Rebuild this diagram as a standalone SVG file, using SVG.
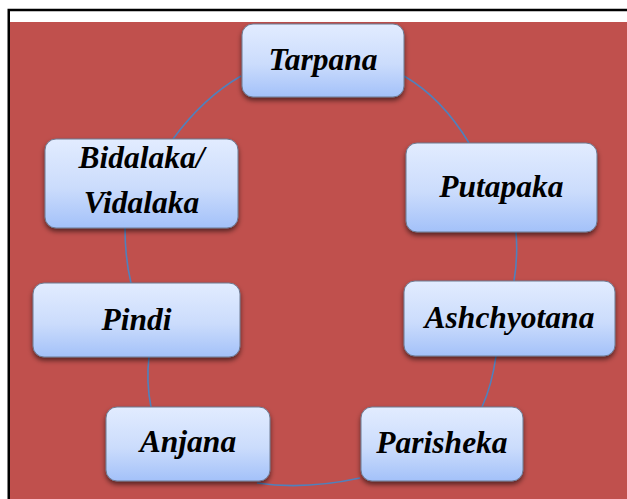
<svg xmlns="http://www.w3.org/2000/svg" width="627" height="499" viewBox="0 0 627 499">
<defs>
<linearGradient id="g" x1="0" y1="0" x2="0" y2="1">
<stop offset="0" stop-color="#e2ecff"/>
<stop offset="0.55" stop-color="#cbdcfc"/>
<stop offset="1" stop-color="#a3c1f9"/>
</linearGradient>
<filter id="sh" x="-20%" y="-20%" width="140%" height="150%">
<feDropShadow dx="0" dy="3" stdDeviation="2.5" flood-color="#000" flood-opacity="0.55"/>
</filter>
<style>
.box{fill:url(#g);stroke:#6c7a92;stroke-width:1;filter:url(#sh)}
.t{font-family:"Liberation Serif","Times New Roman",serif;font-weight:bold;font-style:italic;font-size:31.5px;fill:#000;text-anchor:middle}
.c{fill:none;stroke:#4f81bd;stroke-width:1.6}
</style>
</defs>
<rect x="0" y="0" width="627" height="499" fill="#fff"/>
<rect x="9.5" y="22" width="617.5" height="477" fill="#c0504d"/>
<path d="M8.75 499 V10 H627" fill="none" stroke="#000" stroke-width="2.5"/>
<g id="connectors">
<path class="c" d="M241 76 Q203 98 173 139"/>
<path class="c" d="M404 76 Q442 98 469 143"/>
<path class="c" d="M516 232 Q518 258 514 281"/>
<path class="c" d="M496 356 Q492 385 482 407"/>
<path class="c" d="M360 478 Q305 490 257 483"/>
<path class="c" d="M149 357 Q146 382 151 407"/>
<path class="c" d="M125 228 Q125 258 131 283"/>
</g>
<g id="tarpana"><rect class="box" x="242" y="24" width="162" height="73" rx="11"/><text class="t" x="323" y="70">Tarpana</text></g>
<g id="bidalaka"><rect class="box" x="45" y="139" width="193" height="89" rx="11"/><text class="t" x="141.5" y="168">Bidalaka/</text><text class="t" x="141.5" y="213">Vidalaka</text></g>
<g id="putapaka"><rect class="box" x="406" y="143" width="191" height="89" rx="11"/><text class="t" x="501.5" y="197">Putapaka</text></g>
<g id="pindi"><rect class="box" x="33" y="283" width="207" height="74" rx="11"/><text class="t" x="136.5" y="330">Pindi</text></g>
<g id="ashchyotana"><rect class="box" x="404" y="281" width="211" height="75" rx="11"/><text class="t" x="509.5" y="328">Ashchyotana</text></g>
<g id="parisheka"><rect class="box" x="361" y="407" width="162" height="74" rx="11"/><text class="t" x="442" y="453">Parisheka</text></g>
<g id="anjana"><rect class="box" x="106" y="407" width="164" height="74" rx="11"/><text class="t" x="188" y="452">Anjana</text></g>
</svg>
